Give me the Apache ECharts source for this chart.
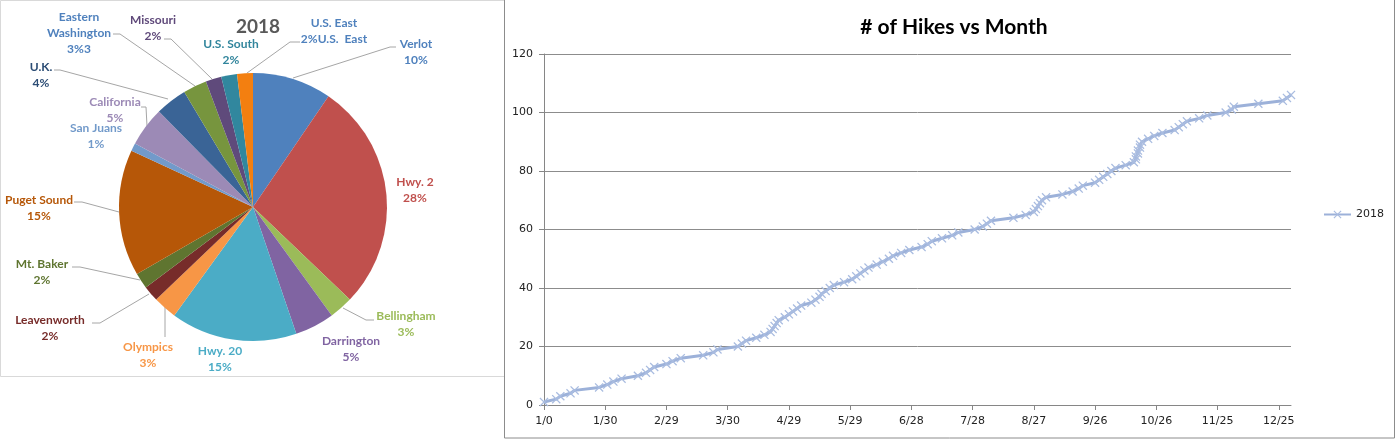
<!DOCTYPE html>
<html>
<head>
<meta charset="utf-8">
<script src="https://cdn.jsdelivr.net/npm/echarts@6/dist/echarts.min.js"></script>
<style>
  html, body { margin: 0; padding: 0; background: #fff; }
  #chart { width: 1400px; height: 444px; }
</style>
</head>
<body>
<div id="chart"></div>
<script>
// ---------- DATA ----------
// Pie: hikes per region (2018)
const regions = ['Verlot', 'Hwy. 2', 'Bellingham', 'Darrington', 'Hwy. 20', 'Olympics',
  'Leavenworth', 'Mt. Baker', 'Puget Sound', 'San Juans', 'California', 'U.K.',
  'Eastern Washington', 'Missouri', 'U.S. South', 'U.S. East'];
const hikesPerRegion = [10, 29, 3, 5, 16, 3, 2, 2, 16, 1, 5, 4, 3, 2, 2, 2];
const regionLabelText = ['Verlot', 'Hwy. 2', 'Bellingham', 'Darrington', 'Hwy. 20', 'Olympics',
  'Leavenworth', 'Mt. Baker', 'Puget Sound', 'San Juans', 'California', 'U.K.',
  'Eastern\nWashington', 'Missouri', 'U.S. South', 'U.S. East'];
const regionLabelSuffix = ['', '', '', '', '', '', '', '', '', '', '', '', '3', '', '', 'U.S.  East'];

// Line: cumulative hikes vs day of year
const hikeDays = [0, 6, 8, 13, 15, 27, 31, 34, 38, 46,
  50, 52, 54, 60, 63, 67, 78, 83, 85, 95,
  97, 99, 104, 108, 111, 112, 113, 114, 115, 118,
  120, 122, 124, 126, 131, 133, 135, 136, 138, 140,
  142, 147, 151, 153, 155, 157, 159, 163, 166, 169,
  171, 175, 179, 185, 188, 190, 195, 200, 203, 211,
  215, 217, 219, 230, 236, 240, 241, 242, 243, 244,
  246, 254, 259, 262, 264, 270, 272, 274, 276, 278,
  280, 285, 289, 290, 290, 291, 291, 292, 292, 293,
  296, 299, 303, 309, 311, 313, 315, 321, 325, 334,
  337, 338, 350, 362, 364, 366];
const hikeCounts = [1, 2, 3, 4, 5, 6, 7, 8, 9, 10,
  11, 12, 13, 14, 15, 16, 17, 18, 19, 20,
  21, 22, 23, 24, 25, 26, 27, 28, 29, 30,
  31, 32, 33, 34, 35, 36, 37, 38, 39, 40,
  41, 42, 43, 44, 45, 46, 47, 48, 49, 50,
  51, 52, 53, 54, 55, 56, 57, 58, 59, 60,
  61, 62, 63, 64, 65, 66, 67, 68, 69, 70,
  71, 72, 73, 74, 75, 76, 77, 78, 79, 80,
  81, 82, 83, 84, 85, 86, 87, 88, 89, 90,
  91, 92, 93, 94, 95, 96, 97, 98, 99, 100,
  101, 102, 103, 104, 105, 106];
const xTickDays = [0, 30, 60, 90, 120, 150, 180, 210, 240, 270, 300, 330, 360];
const xTickLabels = ['1/0', '1/30', '2/29', '3/30', '4/29', '5/29', '6/28', '7/28', '8/27', '9/26', '10/26', '11/25', '12/25'];
const seriesName = '2018';

// ---------- STYLE / LAYOUT ----------
const sliceColors = ['#4F81BD', '#C0504D', '#9BBB59', '#8064A2', '#4BACC6', '#F79646',
  '#772C2A', '#5F7530', '#B65708', '#729ACA', '#9C8AB6', '#3A6496',
  '#77953E', '#5F4A7B', '#31879E', '#F37F10'];
const labelColors = ['#4F81BD', '#C0504D', '#9BBB59', '#8064A2', '#4BACC6', '#F79646',
  '#772C2A', '#5F7530', '#B65708', '#729ACA', '#9C8AB6', '#2C4D75',
  '#4F81BD', '#5F497A', '#31859C', '#4F81BD'];
// label block centres (pixels) and leader lines, mimicking the manual Excel placement
const labelPos = [[416, 52], [415, 190], [406, 324], [351, 349], [220, 359], [148, 355],
  [50, 328], [42, 272], [39, 208], [96, 136], [115, 110], [41, 75],
  [79, 33], [153, 28], [231, 52], [334, 31]];
const leaderPts = [
  [[293, 78], [390, 47], [396, 47]],
  null,
  [[343, 308], [366, 320], [374, 320]],
  null, null,
  [[165, 307], [165, 330], [165, 337]],
  [[149, 294], [100, 323], [92, 323]],
  [[140, 280], [80, 267], [72, 267]],
  [[119, 212], [82, 202], [74, 202]],
  null,
  [[147, 126], [146, 107], [141, 107]],
  [[168, 99], [60, 70], [54, 70]],
  [[195, 86], [120, 34], [113, 34]],
  [[212, 79], [171, 39], [164, 39]],
  null,
  [[247, 73], [290, 42], [300, 42]]
];

const xMarker = 'path://M0,1L1,0L5,4L9,0L10,1L6,5L10,9L9,10L5,6L1,10L0,9L4,5Z';

const pieData = regions.map((n, i) => ({
  name: n,
  value: hikesPerRegion[i],
  itemStyle: { color: sliceColors[i] },
  label: { color: labelColors[i] },
  labelLine: { show: !!leaderPts[i] }
}));
const lineData = hikeDays.map((d, i) => [d, hikeCounts[i]]);

const chart = echarts.init(document.getElementById('chart'), null, { renderer: 'canvas' });
chart.setOption({
  animation: false,
  backgroundColor: '#fff',
  graphic: [
    { type: 'rect', z: -20, shape: { x: 0.5, y: 0.5, width: 515, height: 376 },
      style: { fill: '#fff', stroke: '#d9d9d9', lineWidth: 1 } },
    { type: 'rect', z: -10, shape: { x: 504.5, y: -1, width: 890, height: 439 },
      style: { fill: '#fff', stroke: '#8c8c8c', lineWidth: 1 } }
  ],
  title: [
    { text: '2018', left: 253, top: 12, textAlign: 'center',
      textStyle: { fontFamily: 'Lato', fontWeight: 'bold', fontSize: 19, color: '#595959' } },
    { text: '# of Hikes vs Month', left: 949, top: 12, textAlign: 'center',
      textStyle: { fontFamily: 'Lato', fontWeight: 'bold', fontSize: 21, color: '#000' } }
  ],
  legend: {
    data: [seriesName], left: 1318, top: 204, itemWidth: 27, itemHeight: 10,
    textStyle: { fontFamily: 'DejaVu Sans', fontSize: 11, color: '#222' }
  },
  grid: { left: 544, right: 109, top: 54, bottom: 39 },
  xAxis: {
    type: 'value', min: 0, max: 366,
    axisLine: { show: true, lineStyle: { color: '#868686' } },
    axisTick: { show: true, length: 5, customValues: xTickDays, lineStyle: { color: '#868686' } },
    axisLabel: {
      customValues: xTickDays, margin: 11,
      formatter: v => { const k = xTickDays.indexOf(v); return k >= 0 ? xTickLabels[k] : ''; },
      fontFamily: 'DejaVu Sans', fontSize: 11, color: '#222'
    },
    splitLine: { show: false }
  },
  yAxis: {
    type: 'value', min: 0, max: 120, interval: 20,
    axisLine: { show: true, lineStyle: { color: '#868686' } },
    axisTick: { show: true, length: 5, lineStyle: { color: '#868686' } },
    axisLabel: { fontFamily: 'DejaVu Sans', fontSize: 11, color: '#222', margin: 11 },
    splitLine: { show: true, lineStyle: { color: '#8c8c8c', width: 1 } }
  },
  series: [
    {
      type: 'pie', name: 'regions', center: [253, 207], radius: 134,
      startAngle: 90, clockwise: true, avoidLabelOverlap: false,
      data: pieData,
      emphasis: { disabled: true },
      label: {
        show: true, position: 'outside',
        fontFamily: 'Lato', fontWeight: 'bold', fontSize: 12, lineHeight: 16, align: 'center',
        formatter: p => regionLabelText[p.dataIndex] + '\n' + Math.round(p.percent) + '%' + regionLabelSuffix[p.dataIndex]
      },
      labelLine: { lineStyle: { color: '#a6a6a6', width: 1 }, length: 10, length2: 6 },
      labelLayout: p => {
        const i = p.dataIndex;
        const r = { x: labelPos[i][0], y: labelPos[i][1], align: 'center', verticalAlign: 'middle' };
        if (leaderPts[i]) r.labelLinePoints = leaderPts[i];
        return r;
      }
    },
    {
      type: 'line', name: seriesName, data: lineData,
      symbol: xMarker, symbolSize: 9, showSymbol: true,
      itemStyle: { color: '#A9BCE0', borderWidth: 0 },
      lineStyle: { color: '#9CB1D9', width: 3 },
      emphasis: { disabled: true }
    }
  ]
});
</script>
</body>
</html>
